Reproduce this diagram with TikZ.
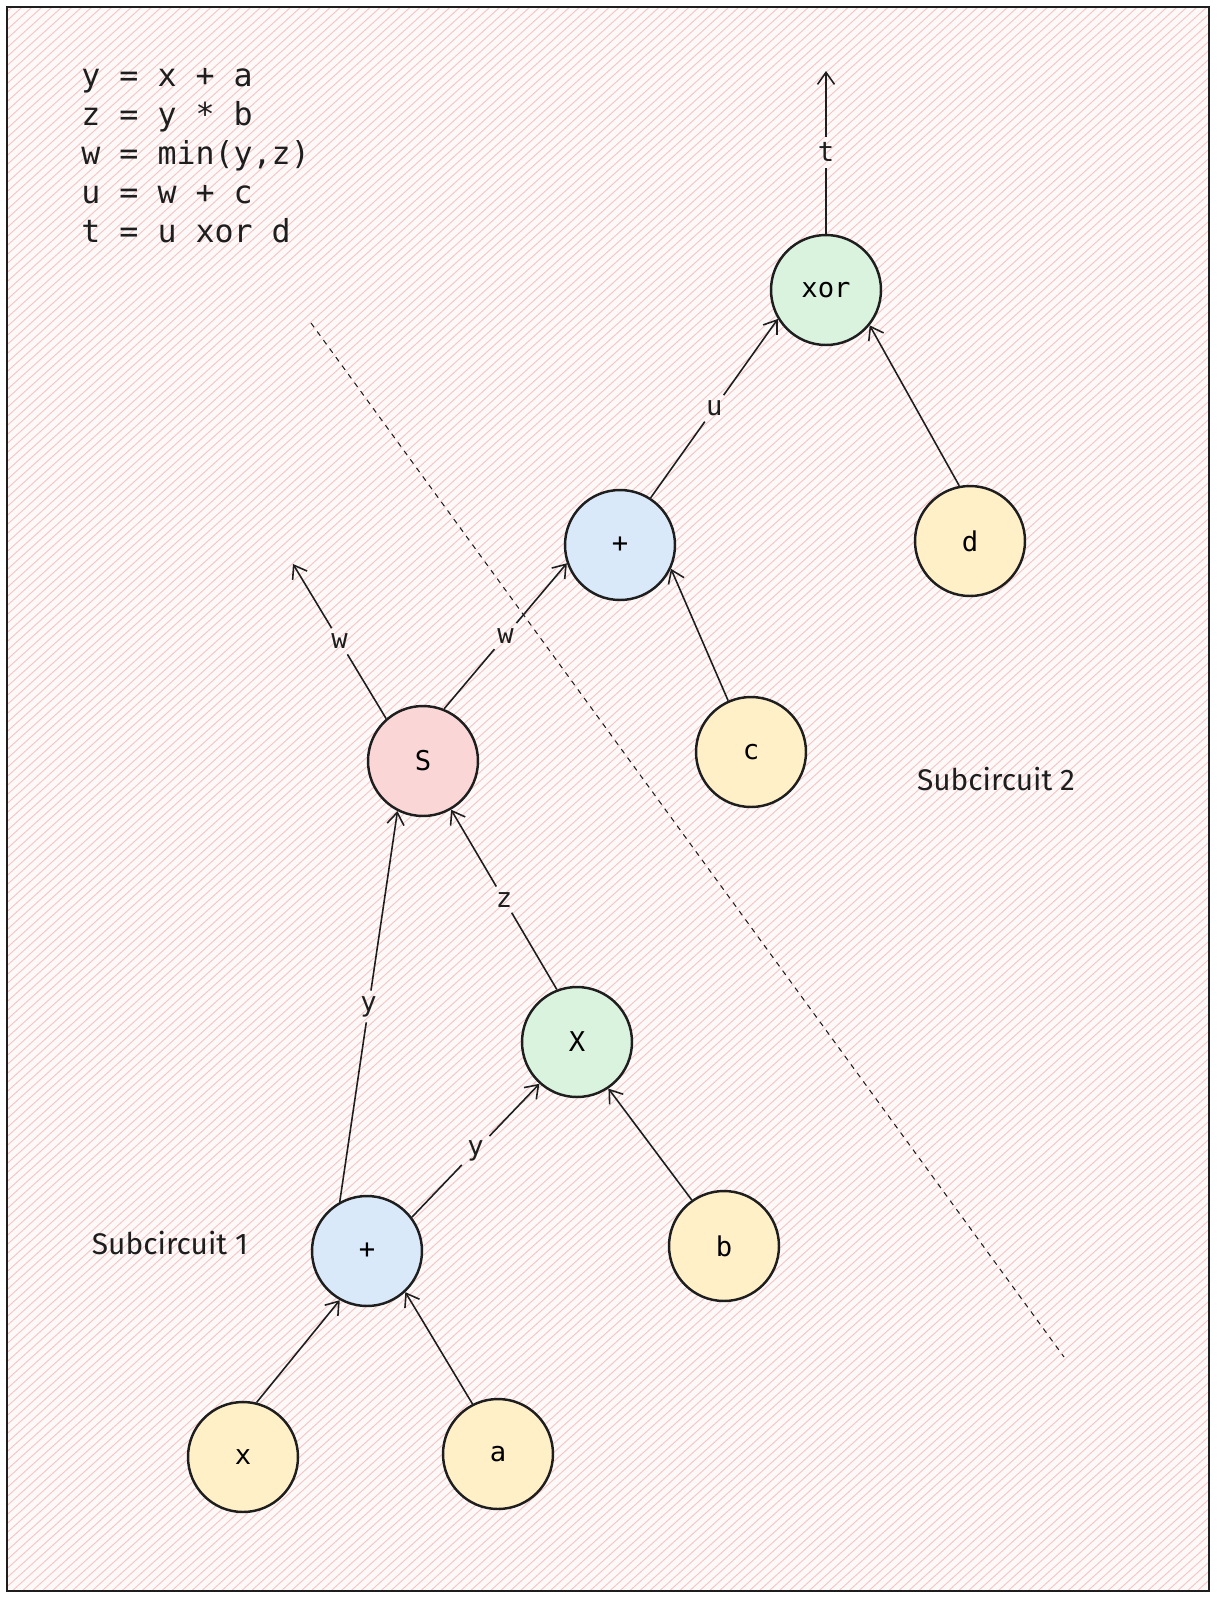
\documentclass[tikz,border=0pt]{standalone}
\usepackage{fontspec}
\setmonofont{DejaVu Sans Mono}
\newfontfamily\handfont{Fira Sans}
\usetikzlibrary{arrows.meta, positioning, calc}

\definecolor{inkBlack}{HTML}{1E1E1E}
\definecolor{hatchPink}{HTML}{F4B8B8}
\definecolor{leafFill}{HTML}{FFF0C8}
\definecolor{addFill}{HTML}{D9E9FA}
\definecolor{mulFill}{HTML}{DAF3DE}
\definecolor{minFill}{HTML}{FAD6D6}

\begin{document}
\begin{tikzpicture}[x=0.02cm, y=-0.02cm,
    >={Straight Barb[length=2.4mm, width=3.4mm]},
    gate/.style={circle, draw=inkBlack, line width=1.4pt, minimum size=2.2cm,
      inner sep=0pt, font=\ttfamily\fontsize{15.5}{18}\selectfont},
    wire/.style={inkBlack, line width=0.9pt},
    lbl/.style={inner sep=3pt, text=inkBlack, font=\ttfamily\fontsize{15.5}{18}\selectfont},
    code/.style={inner sep=0pt, text=inkBlack, font=\ttfamily\fontsize{18}{22}\selectfont},
    note/.style={inner sep=0pt, text=inkBlack, font=\handfont\fontsize{17}{20}\selectfont}]
  \useasboundingbox (0,0) rectangle (1217,1600);
  \fill[white] (0,0) rectangle (1217,1600);

  % Hatched sheet
  \begin{scope}
    \clip (7,7) rectangle (1209,1591);
    \fill[hatchPink!8] (7,7) rectangle (1209,1591);
    \foreach \c in {0,9,...,2709}
      \draw[hatchPink!80, line width=0.55pt] (0,\c) -- (1217,\c-1100);
  \end{scope}
  \draw[inkBlack, line width=1.2pt] (7,7) rectangle (1209,1591);

  % Program text
  \foreach \ln [count=\i] in {y = x + a, z = y * b, {w = min(y,z)}, u = w + c, t = u xor d}
    \node[code, anchor=base west] (eq\i) at (81, {86+39.2*(\i-1)}) {\ln};

  % Cut between the two subcircuits
  \coordinate (cutA) at (311,323);
  \coordinate (cutB) at (1064,1357);
  \draw[inkBlack, line width=0.6pt, dash pattern=on 3pt off 3pt] (cutA) -- (cutB);

  % Gates and inputs
  \node[gate, fill=mulFill] (xor) at (826,290) {xor};
  \node[gate, fill=addFill] (addTop) at (620,545) {+};
  \node[gate, fill=leafFill] (d) at (970,541) {d};
  \node[gate, fill=leafFill] (c) at (751,752) {c};
  \node[gate, fill=minFill] (min) at (423,761) {S};
  \node[gate, fill=mulFill] (mul) at (577,1042) {X};
  \node[gate, fill=leafFill] (b) at (724,1246) {b};
  \node[gate, fill=addFill] (addBot) at (367,1251) {+};
  \node[gate, fill=leafFill] (x) at (243,1457) {x};
  \node[gate, fill=leafFill] (a) at (498,1454) {a};

  % Outputs
  \coordinate (tOut) at (826,71);
  \coordinate (wOut) at (293,564);

  % Unlabelled wires
  \draw[wire, ->] (d.101) -- (xor.321);
  \draw[wire, ->] (c.114) -- (addTop.335);
  \draw[wire, ->] (b.125) -- (mul.304);
  \draw[wire, ->] (x.76) -- (addBot.241);
  \draw[wire, ->] (a.117) -- (addBot.313);

  % Labelled wires (label breaks the line)
  \path (xor.90) -- (tOut) node[lbl, midway] (tLbl) {t};
  \draw[wire] (xor.90) -- (tLbl);
  \draw[wire, ->] (tLbl) -- (tOut);

  \path (min.131) -- (wOut) node[lbl, midway] (wLblOut) {w};
  \draw[wire] (min.131) -- (wLblOut);
  \draw[wire, ->] (wLblOut) -- (wOut);

  \path (min.68) -- (addTop.199) node[lbl, midway] (wLbl) {w};
  \draw[wire] (min.68) -- (wLbl);
  \draw[wire, ->] (wLbl) -- (addTop.199);

  \path (addTop.57) -- (xor.211) node[lbl, midway] (uLbl) {u};
  \draw[wire] (addTop.57) -- (uLbl);
  \draw[wire, ->] (uLbl) -- (xor.211);

  \path (mul.111) -- (min.300) node[lbl, midway] (zLbl) {z};
  \draw[wire] (mul.111) -- (zLbl);
  \draw[wire, ->] (zLbl) -- (min.300);

  \path (addBot.119) -- (min.243) node[lbl, midway] (yLblS) {y};
  \draw[wire] (addBot.119) -- (yLblS);
  \draw[wire, ->] (yLblS) -- (min.243);

  \path (addBot.37) -- (mul.228) node[lbl, midway] (yLblX) {y};
  \draw[wire] (addBot.37) -- (yLblX);
  \draw[wire, ->] (yLblX) -- (mul.228);

  % Subcircuit names
  \node[note] (sub1) at (170,1243) {Subcircuit 1};
  \node[note] (sub2) at (996,779) {Subcircuit 2};
\end{tikzpicture}
\end{document}
